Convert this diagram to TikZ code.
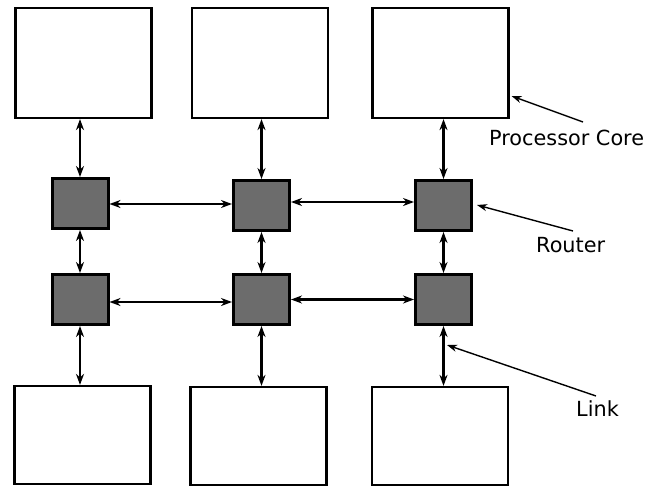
\documentclass[tikz,border=0pt]{standalone}
\usepackage{fontspec}
\setmainfont{DejaVu Sans}
\usetikzlibrary{arrows.meta}
\definecolor{routergray}{RGB}{108,108,108}
\begin{document}
\begin{tikzpicture}[x=1pt,y=-1pt,
  core/.style={draw=black, fill=white, line width=2.2pt, minimum width=136pt, minimum height=110pt, inner sep=0pt},
  corelow/.style={core, minimum height=98pt},
  router/.style={draw=black, fill=routergray, line width=3pt, minimum width=56pt, minimum height=50pt, inner sep=0pt},
  link/.style={line width=2.3pt, {Stealth[length=11pt,width=8pt,inset=3.5pt]}-{Stealth[length=11pt,width=8pt,inset=3.5pt]}},
  callout/.style={line width=1.4pt, -{Stealth[length=10pt,width=7pt,inset=3pt]}},
  label/.style={font=\fontsize{20.8pt}{24pt}\selectfont, inner sep=0pt, anchor=base west}
]
\useasboundingbox (0,0) rectangle (660,489);

% processor cores, top row
\node[core] (c1) at (83.5,63) {};
\node[core] (c2) at (260,63) {};
\node[core] (c3) at (440.5,63) {};

% processor cores, bottom row
\node[corelow] (d1) at (82.5,435) {};
\node[corelow] (d2) at (258.5,436) {};
\node[corelow] (d3) at (440,436) {};

% routers
\node[router] (r11) at (80,203.5) {};
\node[router] (r12) at (261.5,205.5) {};
\node[router] (r13) at (443.5,205.5) {};
\node[router] (r21) at (80,299.5) {};
\node[router] (r22) at (261.5,299.5) {};
\node[router] (r23) at (443.5,299.5) {};

% core-to-router links
\draw[link] (r11.north |- c1.south) -- (r11.north);
\draw[link] (r12.north |- c2.south) -- (r12.north);
\draw[link] (r13.north |- c3.south) -- (r13.north);
\draw[link] (r21.south) -- (r21.south |- d1.north);
\draw[link] (r22.south) -- (r22.south |- d2.north);
\draw[link] (r23.south) -- (r23.south |- d3.north);

% vertical router links
\draw[link] (r11.south) -- (r21.north);
\draw[link] (r12.south) -- (r22.north);
\draw[link] (r13.south) -- (r23.north);

% horizontal router links
\draw[link] ([yshift=-0.5pt]r11.east) -- ([yshift=-0.5pt]r11.east -| r12.west);
\draw[link] ([yshift=3.5pt]r12.east) -- ([yshift=3.5pt]r12.east -| r13.west);
\draw[link] ([yshift=-2.5pt]r21.east) -- ([yshift=-2.5pt]r21.east -| r22.west);
\draw[link] (r22.east) -- (r22.east -| r23.west);

% legend labels
\node[label] (lcore) at (489,146) {Processor Core};
\node[label] (lrouter) at (536,252) {Router};
\node[label] (llink) at (576,416) {Link};

\coordinate (pcfrom) at (583,122);
\coordinate (pcto) at (511.5,96);
\coordinate (rtfrom) at (573,231);
\coordinate (rtto) at (477,205);
\coordinate (lkfrom) at (596,396);
\coordinate (lkto) at (447,345);

\draw[callout] (pcfrom) -- (pcto);
\draw[callout] (rtfrom) -- (rtto);
\draw[callout] (lkfrom) -- (lkto);
\end{tikzpicture}
\end{document}
